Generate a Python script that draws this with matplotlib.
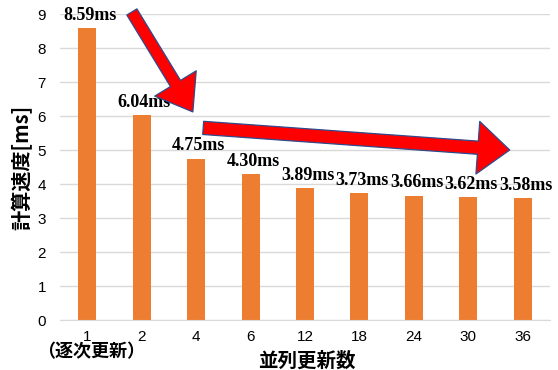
import matplotlib
matplotlib.use("Agg")
import matplotlib.pyplot as plt

categories = ["1", "2", "4", "6", "12", "18", "24", "30", "36"]
values = [8.59, 6.04, 4.75, 4.30, 3.89, 3.73, 3.66, 3.62, 3.58]
value_labels = ["8.59ms", "6.04ms", "4.75ms", "4.30ms", "3.89ms", "3.73ms", "3.66ms", "3.62ms", "3.58ms"]
y_ticks = [0, 1, 2, 3, 4, 5, 6, 7, 8, 9]
x_title = "並列更新数"
y_title = "計算速度[ms]"
first_note = "（逐次更新）"

cjk = ["Noto Sans CJK JP", "DejaVu Sans"]

fig = plt.figure(figsize=(5.58, 3.70), dpi=100)
ax = fig.add_axes([60/558, 1-320/370, (550-60)/558, (320-14)/370])

x = list(range(len(categories)))
ax.bar(x, values, width=0.33, color="#ED7D31", zorder=2)
ax.set_xlim(-0.5, len(categories)-0.5)
ax.set_ylim(0, 9)
ax.set_yticks(y_ticks)
ax.set_xticks(x)
ax.set_xticklabels(categories)
ax.yaxis.grid(True, color="#D9D9D9", lw=1, zorder=0)
ax.set_axisbelow(True)
for s in ["top", "right", "left"]:
    ax.spines[s].set_visible(False)
ax.spines["bottom"].set_color("#D9D9D9")
ax.tick_params(axis="both", length=0, labelsize=11, colors="black")
ax.tick_params(axis="x", pad=7)
ax.tick_params(axis="y", pad=10)
for lab in ax.get_xticklabels() + ax.get_yticklabels():
    lab.set_fontfamily("Liberation Sans")

for xi, v, t in zip(x, values, value_labels):
    ax.text(xi + 0.05, v + 0.12, t, ha="center", va="bottom",
            fontfamily="Liberation Serif", fontweight="bold", fontsize=13,
            clip_on=False, zorder=3)

fig.text(91/558, 1-352/370, first_note, ha="center", va="center",
         family=cjk, fontweight="bold", fontsize=13)
fig.text(307/558, 1-361/370, x_title, ha="center", va="center",
         family=cjk, fontweight="bold", fontsize=14)
fig.text(22/558, 1-167/370, y_title, ha="center", va="center", rotation=90,
         family=cjk, fontweight="bold", fontsize=14.5)

arrow_kw = dict(fc="#FF0000", ec="#2F4A8C", lw=0.9, shrinkA=0, shrinkB=0,
                mutation_scale=1)
ax.annotate("", xy=(1.94, 6.12), xytext=(0.82, 9.06),
            arrowprops=dict(arrowstyle="simple,head_length=24,head_width=35,tail_width=8.5",
                            **arrow_kw), annotation_clip=False, zorder=4)
ax.annotate("", xy=(7.76, 5.0), xytext=(2.13, 5.65),
            arrowprops=dict(arrowstyle="simple,head_length=23,head_width=38,tail_width=9.5",
                            **arrow_kw), annotation_clip=False, zorder=4)

fig.savefig("out.png", dpi=100)
